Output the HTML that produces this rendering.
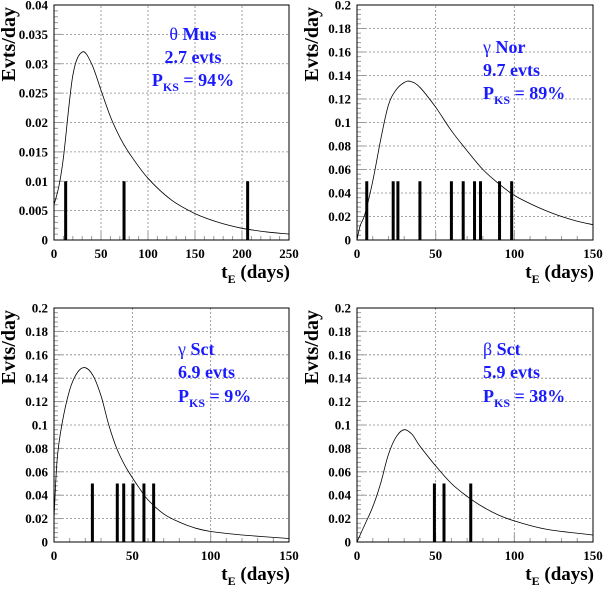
<!DOCTYPE html>
<html><head><meta charset="utf-8">
<style>
body{margin:0;background:#fff;}
svg{display:block;font-family:"Liberation Serif",serif;}
</style></head>
<body>
<svg id="c" width="603" height="590" viewBox="0 0 603 590" xmlns="http://www.w3.org/2000/svg"></svg>
<script>
// Panel 1: theta Mus
const p1Days=[0,5,10,20,30,40,50,60,70,80,100,125,150,175,200,225,250];
const p1Rate=[0.006,0.009,0.014,0.028,0.032,0.030,0.0255,0.021,0.0175,0.0148,0.0105,0.0068,0.0045,0.003,0.002,0.0014,0.001];
const p1Events=[12.4,74.5,206];
// Panel 2: gamma Nor
const p2Days=[0,2,5,10,15,20,25,30,34,40,50,60,70,80,90,100,110,120,130,140,150];
const p2Rate=[0,0.012,0.022,0.05,0.085,0.115,0.128,0.134,0.135,0.13,0.113,0.093,0.076,0.06,0.048,0.038,0.031,0.025,0.02,0.016,0.013];
const p2Events=[6.2,23,26,40,60,67.5,74.7,78.5,90.6,98.3];
// Panel 3: gamma Sct
const p3Days=[0,2,5,10,15,20,25,30,35,40,45,50,55,60,70,80,90,100,120,150];
const p3Rate=[0.02,0.07,0.1,0.13,0.145,0.149,0.142,0.125,0.1,0.08,0.066,0.055,0.045,0.036,0.024,0.017,0.012,0.009,0.006,0.003];
const p3Events=[24.5,40.4,44.5,50.4,57.4,63.6];
// Panel 4: beta Sct
const p4Days=[0,5,10,15,20,25,30,35,40,50,60,70,80,90,100,120,150];
const p4Rate=[0,0.015,0.03,0.05,0.075,0.09,0.096,0.092,0.082,0.065,0.05,0.039,0.03,0.023,0.018,0.011,0.006];
const p4Events=[49.2,55.3,72.3];
const yTicks1=["0","0.005","0.01","0.015","0.02","0.025","0.03","0.035","0.04"];
const yTicks2=["0","0.02","0.04","0.06","0.08","0.1","0.12","0.14","0.16","0.18","0.2"];
const xTicks1=[0,50,100,150,200,250];
const xTicks2=[0,50,100,150];

const NS="http://www.w3.org/2000/svg";
const svg=document.getElementById('c');
function mk(t,a,parent){const e=document.createElementNS(NS,t);for(const k in a)e.setAttribute(k,a[k]);(parent||svg).appendChild(e);return e;}

const panels=[
 {name:'theta-mus',x0:54,x1:289,y0:240,y1:5,xmax:250,ymax:0.04,days:p1Days,rate:p1Rate,ev:p1Events,evH:0.01,yt:yTicks1,xt:xTicks1,yMinor:5,xMinor:5,
  lines:[["θ"," Mus"],["2.7 evts"],["P","KS"," = 94%"]],tx:193,anchor:'middle',ty:[40,63,86]},
 {name:'gamma-nor',x0:357,x1:593,y0:240,y1:5,xmax:150,ymax:0.2,days:p2Days,rate:p2Rate,ev:p2Events,evH:0.05,yt:yTicks2,xt:xTicks2,yMinor:5,xMinor:5,
  lines:[["γ"," Nor"],["9.7 evts"],["P","KS"," = 89%"]],tx:483,anchor:'start',ty:[53,76,99]},
 {name:'gamma-sct',x0:54,x1:289,y0:542,y1:308,xmax:150,ymax:0.2,days:p3Days,rate:p3Rate,ev:p3Events,evH:0.05,yt:yTicks2,xt:xTicks2,yMinor:5,xMinor:5,
  lines:[["γ"," Sct"],["6.9 evts"],["P","KS"," = 9%"]],tx:178,anchor:'start',ty:[355,378,402]},
 {name:'beta-sct',x0:357,x1:593,y0:542,y1:308,xmax:150,ymax:0.2,days:p4Days,rate:p4Rate,ev:p4Events,evH:0.05,yt:yTicks2,xt:xTicks2,yMinor:5,xMinor:5,
  lines:[["β"," Sct"],["5.9 evts"],["P","KS"," = 38%"]],tx:483,anchor:'start',ty:[355,378,402]}
];

function smoothPath(P){
  let d='M'+P[0][0].toFixed(1)+','+P[0][1].toFixed(1);
  for(let i=0;i<P.length-1;i++){
    const p0=P[i-1]||P[i],p1=P[i],p2=P[i+1],p3=P[i+2]||P[i+1];
    const c1=[p1[0]+(p2[0]-p0[0])/6,p1[1]+(p2[1]-p0[1])/6];
    const c2=[p2[0]-(p3[0]-p1[0])/6,p2[1]-(p3[1]-p1[1])/6];
    d+=' C'+c1.map(v=>v.toFixed(1)).join(',')+' '+c2.map(v=>v.toFixed(1)).join(',')+' '+p2.map(v=>v.toFixed(1)).join(',');
  }
  return d;
}

panels.forEach(p=>{
  const g=mk('g',{});
  
  
  const X=d=>p.x0+(d/p.xmax)*(p.x1-p.x0);
  const Y=v=>p.y0-(v/p.ymax)*(p.y0-p.y1);
  const ny=p.yt.length-1, nx=p.xt.length-1;
  for(let i=1;i<ny;i++){const y=p.y0-i*(p.y0-p.y1)/ny;
    const l=mk('line',{x1:p.x0,x2:p.x1,y1:y,y2:y,stroke:'#888','stroke-width':0.8,'stroke-dasharray':'2,2'},g);
    }
  for(let i=1;i<nx;i++){const x=p.x0+i*(p.x1-p.x0)/nx;
    const l=mk('line',{x1:x,x2:x,y1:p.y0,y2:p.y1,stroke:'#888','stroke-width':0.8,'stroke-dasharray':'2,2'},g);
    }
  for(let i=0;i<=ny*p.yMinor;i++){const y=p.y0-i*(p.y0-p.y1)/(ny*p.yMinor);const L=i%p.yMinor==0?8:4;
    mk('line',{x1:p.x0,x2:p.x0+L,y1:y,y2:y,stroke:'#999','stroke-width':1},g);}
  for(let i=0;i<=nx*p.xMinor;i++){const x=p.x0+i*(p.x1-p.x0)/(nx*p.xMinor);const L=i%p.xMinor==0?8:4;
    mk('line',{x1:x,x2:x,y1:p.y0,y2:p.y0-L,stroke:'#999','stroke-width':1},g);}
  const f=mk('rect',{x:p.x0,y:p.y1,width:p.x1-p.x0,height:p.y0-p.y1,fill:'none',stroke:'#000','stroke-width':1},g);
  
  p.yt.forEach((t,i)=>{const y=p.y0-i*(p.y0-p.y1)/ny;
    const e=mk('text',{x:p.x0-6,y:y+4.5,'text-anchor':'end','font-size':13,'font-weight':'bold'},g);e.textContent=t;
    });
  p.xt.forEach((t,i)=>{const x=X(t);
    const e=mk('text',{x:x,y:p.y0+18,'text-anchor':'middle','font-size':13,'font-weight':'bold'},g);e.textContent=t;
    });
  const yt=mk('text',{x:0,y:0,transform:`translate(${p.x0-39},${p.y1+2}) rotate(-90)`,'text-anchor':'end','font-size':20,'font-weight':'bold'},g);
  yt.textContent='Evts/day';
  const xt=mk('text',{x:p.x1+1,y:p.y0+38,'text-anchor':'end','font-size':19,'font-weight':'bold'},g);
  xt.innerHTML='t<tspan font-size="12" dy="5">E</tspan><tspan dy="-5"> (days)</tspan>';
  
  p.ev.forEach(d=>{const b=mk('line',{x1:X(d),x2:X(d),y1:p.y0,y2:Y(p.evH),stroke:'#000','stroke-width':3},g);
    });
  const P=p.days.map((d,i)=>[X(d),Y(p.rate[i])]);
  const c=mk('path',{d:smoothPath(P),fill:'none',stroke:'#000','stroke-width':0.8},g);
  
  p.lines.forEach((ln,i)=>{const e=mk('text',{x:p.tx,y:p.ty[i],'text-anchor':p.anchor,'font-size':18,'font-weight':'bold',fill:'#1a1aff'},g);
    if(ln.length==3) e.innerHTML=ln[0]+'<tspan font-size="12" dy="5">'+ln[1]+'</tspan><tspan dy="-5">'+ln[2]+'</tspan>';
    else if(ln.length==2) e.innerHTML='<tspan font-weight="normal">'+ln[0]+'</tspan>'+ln[1];
    else e.textContent=ln[0];
    });
});
</script>
</body></html>
